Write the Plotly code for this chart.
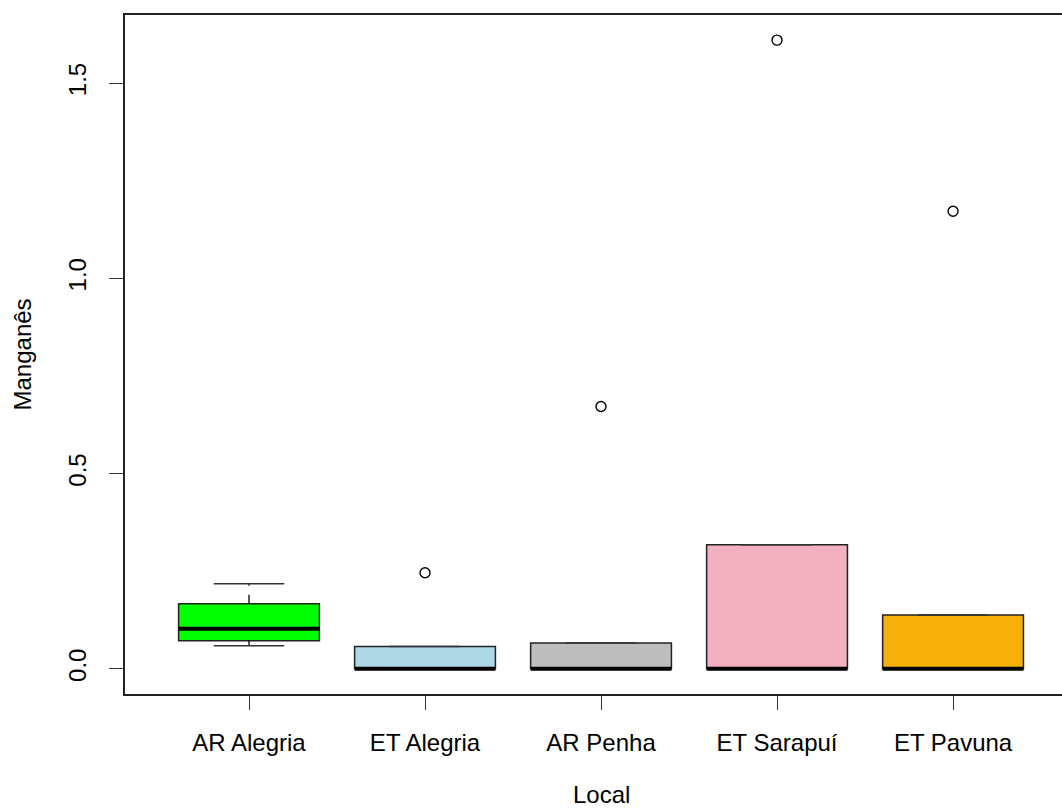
import plotly.graph_objects as go

categories = ["AR Alegria", "ET Alegria", "AR Penha", "ET Sarapuí", "ET Pavuna"]
positions = [1, 2, 3, 4, 5]
q1 = [0.072, 0.0, 0.0, 0.0, 0.0]
median = [0.103, 0.0, 0.0, 0.0, 0.0]
q3 = [0.167, 0.057, 0.066, 0.318, 0.138]
lower_whisker = [0.059, 0.0, 0.0, 0.0, 0.0]
upper_whisker = [0.218, 0.057, 0.066, 0.318, 0.138]
outliers = [None, 0.246, 0.672, 1.610, 1.172]
fill_colors = ["#00FF00", "#ADD8E6", "#BEBEBE", "#F2B0C0", "#F5B00A"]
y_ticks = [0.0, 0.5, 1.0, 1.5]
y_ticktext = ["0.0", "0.5", "1.0", "1.5"]

box_w = 0.8
staple_w = box_w * 0.5

fig = go.Figure()

# whiskers (dashed) and staples
for p, lo, hi, a, b in zip(positions, lower_whisker, upper_whisker, q1, q3):
    fig.add_trace(go.Scatter(x=[p, p, None, p, p], y=[b, hi, None, a, lo], mode="lines",
                             line=dict(color="black", width=1.3, dash="dash"),
                             showlegend=False, hoverinfo="skip"))
    fig.add_trace(go.Scatter(x=[p - staple_w / 2, p + staple_w / 2, None, p - staple_w / 2, p + staple_w / 2],
                             y=[hi, hi, None, lo, lo], mode="lines",
                             line=dict(color="#333333", width=1.5),
                             showlegend=False, hoverinfo="skip"))

# boxes
for p, a, m, b, c, name in zip(positions, q1, median, q3, fill_colors, categories):
    fig.add_trace(go.Box(x=[p], q1=[a], median=[m], q3=[b], lowerfence=[a], upperfence=[b],
                         width=box_w, fillcolor=c, line=dict(color="#222222", width=1.5),
                         name=name, showlegend=False, hoverinfo="skip", boxpoints=False))

# thick medians
for p, m in zip(positions, median):
    fig.add_trace(go.Scatter(x=[p - box_w / 2, p + box_w / 2], y=[m, m], mode="lines",
                             line=dict(color="black", width=4),
                             showlegend=False, hoverinfo="skip"))

# outliers
ox = [p for p, o in zip(positions, outliers) if o is not None]
oy = [o for o in outliers if o is not None]
fig.add_trace(go.Scatter(x=ox, y=oy, mode="markers",
                         marker=dict(symbol="circle-open", size=10, color="black",
                                     line=dict(width=1.4, color="black")),
                         showlegend=False, hoverinfo="skip"))

font = dict(family="Liberation Sans, Arial, sans-serif", size=24, color="black")

fig.update_layout(
    width=1062, height=810,
    margin=dict(l=125, r=0, t=15, b=116),
    plot_bgcolor="white", paper_bgcolor="white",
    font=font,
    xaxis=dict(range=[0.2955, 5.619], tickvals=positions, ticktext=categories,
               showgrid=False, zeroline=False, showline=True, mirror=True,
               linecolor="#222222", linewidth=1.5, ticks="outside", ticklen=14,
               tickwidth=1.3, tickcolor="#333333", ticklabelstandoff=12),
    yaxis=dict(range=[-0.0644, 1.6744], tickvals=y_ticks,
               ticktext=y_ticktext, tickangle=-90,
               showgrid=False, zeroline=False, showline=True, mirror=False,
               linecolor="#222222", linewidth=1.5, ticks="outside", ticklen=14,
               tickwidth=1.3, tickcolor="#333333", ticklabelstandoff=14),
    annotations=[
        dict(text="Local", x=3, xref="x", y=0, yref="paper", yanchor="middle",
             yshift=-100, showarrow=False, font=font),
        dict(text="Manganês", x=0, xref="paper", xanchor="center", xshift=-103,
             y=0.5, yref="paper", textangle=-90, showarrow=False, font=font),
    ],
)

fig.write_html("out.html", config={"displayModeBar": False},
               post_script="document.body.style.margin='0';")
